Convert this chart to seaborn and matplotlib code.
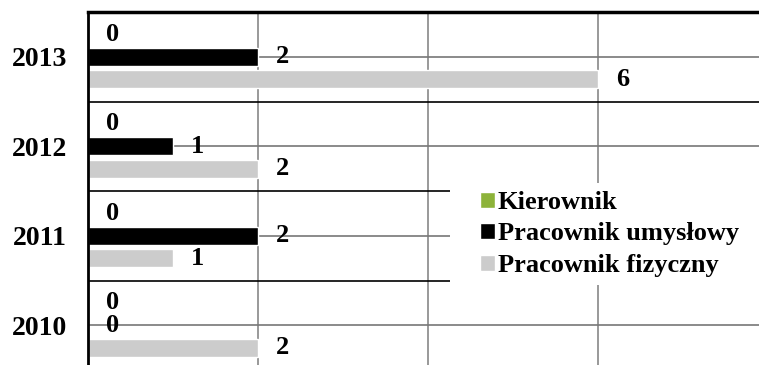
import numpy as np
import pandas as pd
import matplotlib
matplotlib.use("Agg")
import matplotlib.pyplot as plt
import seaborn as sns
from matplotlib.patches import Rectangle

# data
years = ["2013", "2012", "2011", "2010"]
series = ["Kierownik", "Pracownik umysłowy", "Pracownik fizyczny"]
kierownik = [0, 0, 0, 0]
umyslowy = [2, 1, 2, 0]
fizyczny = [6, 2, 1, 2]
colors = ["#8db33a", "#000000", "#cccccc"]

df = pd.DataFrame({
    "rok": years * 3,
    "grupa": [s for s in series for _ in years],
    "liczba": kierownik + umyslowy + fizyczny,
})

sns.set_style("white")
plt.rcParams["font.family"] = ["Liberation Serif", "DejaVu Serif"]
plt.rcParams["font.weight"] = "bold"
plt.rcParams["text.color"] = "black"
plt.rcParams["ytick.color"] = "black"

fig = plt.figure(figsize=(7.59, 3.65), dpi=100)
ax = fig.add_axes([88 / 759, -5 / 365, 671 / 759, 358 / 365])

sns.barplot(data=df, y="rok", x="liczba", hue="grupa", order=years,
            hue_order=series, palette=colors, orient="h", width=0.75,
            gap=0.2, saturation=1, ax=ax, legend=True)

ax.set_xlim(0, 671 / 85)
ax.set_ylim(3.5, -0.5)

# gridlines: grey at category centres and x steps, black at category borders
ax.set_xticks([0, 2, 4, 6])
ax.set_xticklabels([])
ax.set_yticks(range(len(years)))
ax.set_yticks([0.5, 1.5, 2.5], minor=True)
ax.grid(axis="x", which="major", color="#888888", lw=1.2)
ax.grid(axis="y", which="major", color="#777777", lw=1.2)
ax.grid(axis="y", which="minor", color="#000000", lw=1.2)
ax.set_axisbelow(True)
ax.tick_params(axis="both", which="both", length=0)
ax.tick_params(axis="y", pad=15, labelsize=20, labelcolor="black")
for t in ax.get_yticklabels():
    t.set_fontweight("bold")
ax.set_xlabel("")
ax.set_ylabel("")

for side in ["right", "bottom"]:
    ax.spines[side].set_visible(False)
ax.spines["top"].set_linewidth(2.5)
ax.spines["top"].set_color("black")
ax.spines["left"].set_linewidth(2)
ax.spines["left"].set_color("black")

for cont in ax.containers:
    ax.bar_label(cont, labels=[f"{v:g}" for v in cont.datavalues],
                 padding=13, fontsize=19, fontweight="bold", color="black")

# white area behind the legend
ax.add_patch(Rectangle((450 / 759, 80 / 365), 309 / 759, 102 / 365,
                       transform=fig.transFigure, facecolor="white",
                       edgecolor="none", zorder=4, clip_on=False))

handles, labels = ax.get_legend_handles_labels()
leg = ax.legend(handles, labels, loc="upper left",
                bbox_to_anchor=(480 / 759, 1 - 191 / 365),
                bbox_transform=fig.transFigure, frameon=False,
                handlelength=0.55, handleheight=0.55,
                handletextpad=0.12, labelspacing=0.32, borderpad=0,
                borderaxespad=0, prop={"weight": "bold", "size": 19})
for t in leg.get_texts():
    t.set_color("black")
leg.set_zorder(6)

fig.savefig("out.png", dpi=100)
